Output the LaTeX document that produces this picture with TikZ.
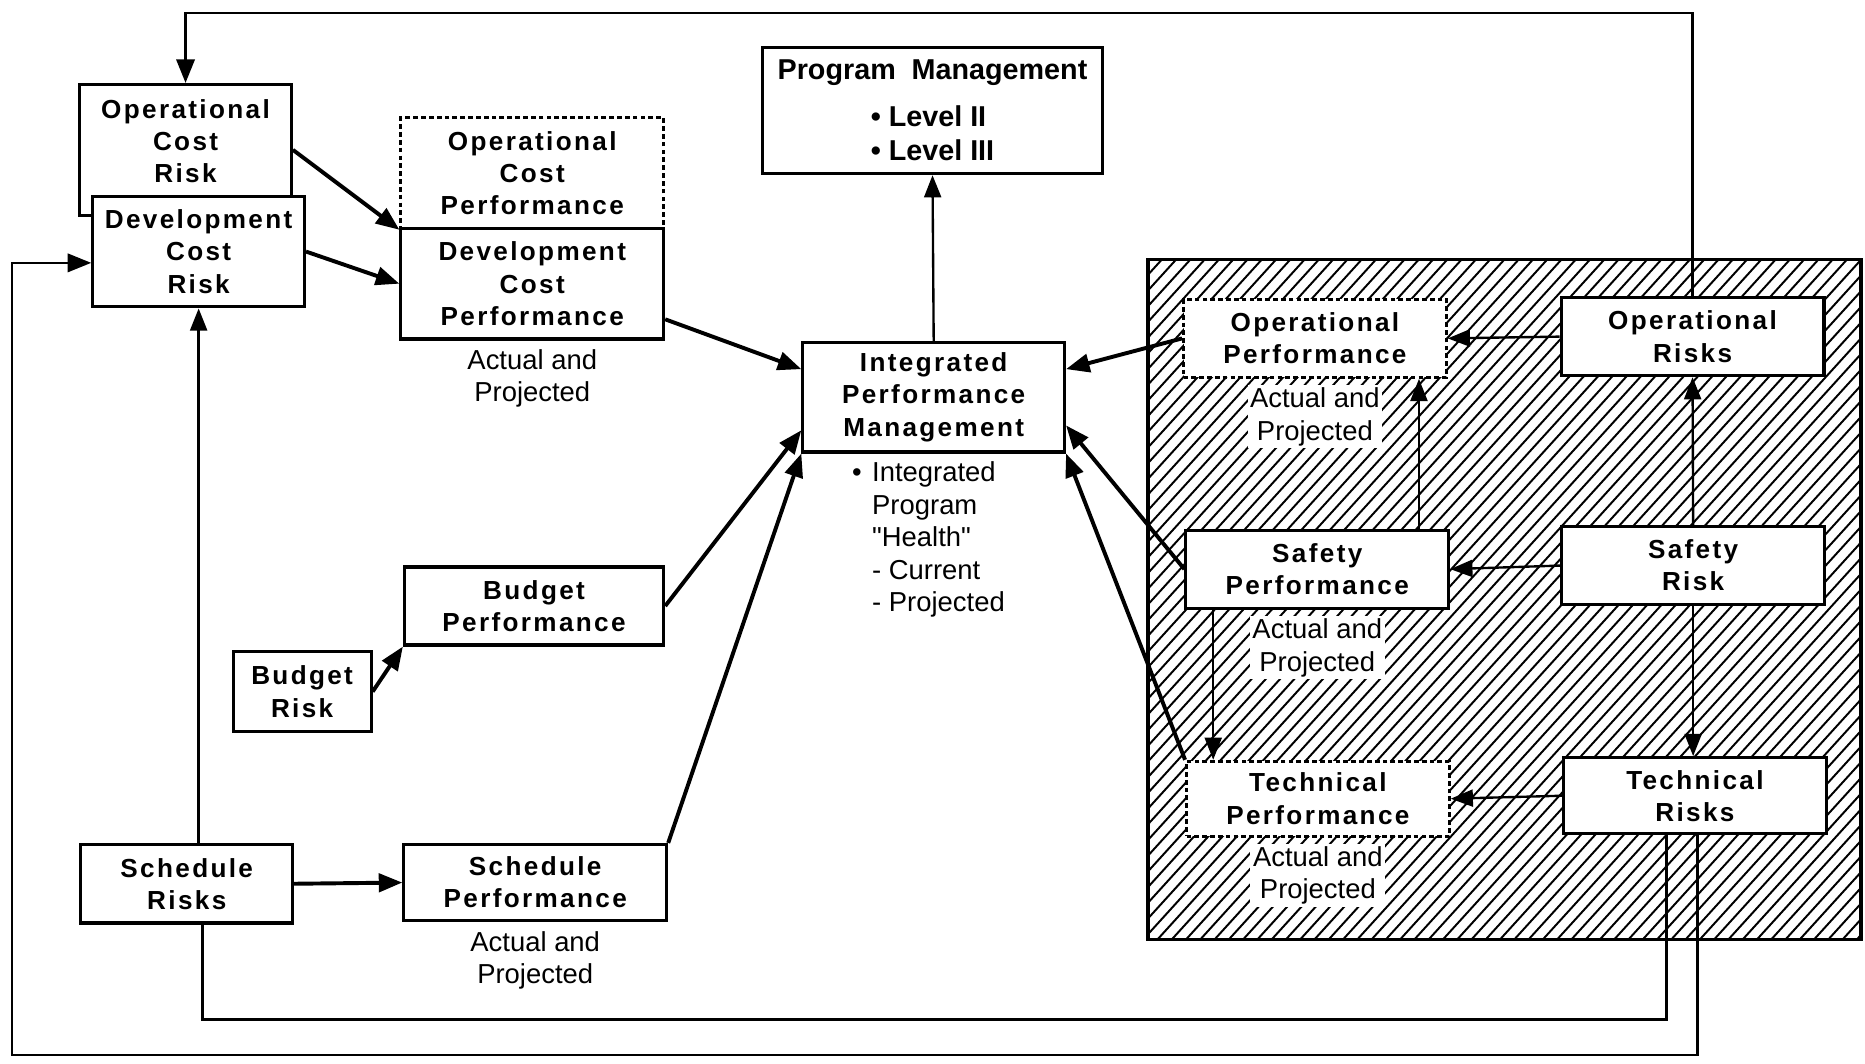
\documentclass[tikz,border=0pt]{standalone}
\usepackage{fontspec}
\usepackage{tikz}
\usetikzlibrary{arrows.meta, positioning}
\newfontfamily\riskfam{Liberation Sans}[LetterSpace=9]
\newfontfamily\plainfam{Liberation Sans}
\newcommand\riskfont{\riskfam\bfseries\fontsize{10}{12.3}\selectfont}
\newcommand\mgmtfont{\plainfam\bfseries\fontsize{11}{13}\selectfont}
\newcommand\notefont{\plainfam\fontsize{10.5}{12.4}\selectfont}
\tikzset{
  riskbox/.style={rectangle, draw, fill=white, line width=1.2pt,
    align=center, inner sep=0pt, font=\riskfont},
  perfbox/.style={riskbox, dash pattern=on 1.8pt off 1.2pt, line width=1.1pt},
  wide/.style={minimum width=3.536cm, minimum height=1.05cm},
  actual/.style={align=center, font=\notefont, inner sep=1pt, fill=white},
  note/.style={align=left, font=\notefont, inner sep=0pt},
  arrow/.style={-{Triangle[length=9pt,width=7pt]}, line width=1.5pt},
  thinarrow/.style={-{Triangle[length=8.5pt,width=6.5pt]}, line width=0.9pt},
  loopline/.style={line width=1pt},
  looparrow/.style={loopline, -{Triangle[length=9pt,width=7pt]}},
  hatch/.style={line width=0.75pt}
}

\begin{document}
\begin{tikzpicture}[x=0.016cm, y=-0.016cm]
  \useasboundingbox (0,0) rectangle (1568,894);

  % hatched risk area
  \begin{scope}
    \clip (965,218) rectangle (1565,790);
    \foreach \k in {0,...,100}
      \draw[hatch] (445+\k*12,790) -- ++(520,-572);
  \end{scope}
  \node[draw, line width=1.4pt, minimum width=9.6cm, minimum height=9.152cm,
    inner sep=0pt] (zone) at (1265,504) {};

  % cost risks and performance
  \node[riskbox, minimum width=2.848cm, minimum height=1.76cm, text depth=6.5pt] (ocr) at (156,126) {Operational\\Cost\\Risk};
  \node[riskbox, minimum width=2.848cm, minimum height=1.488cm] (dcr) at (167,211.5) {Development\\Cost\\Risk};
  \node[perfbox, minimum width=3.536cm, minimum height=1.488cm] (ocp) at (447.5,145.5) {Operational\\Cost\\Performance};
  \node[riskbox, minimum width=3.536cm, minimum height=1.488cm] (dcp) at (447.5,238.5) {Development\\Cost\\Performance};
  \node[actual, below=0.08cm of dcp] (dcpnote) {Actual and\\Projected};

  % management
  \node[riskbox, font=\mgmtfont, minimum width=4.576cm, minimum height=1.696cm] (pm) at (784,93)
    {Program\ \ Management\\[5pt]\textbullet\ Level II\phantom{I}\\\textbullet\ Level III};
  \node[riskbox, minimum width=3.52cm, minimum height=1.472cm] (ipm) at (785,334) {Integrated\\Performance\\Management};
  \node[note, anchor=north west] (health) at (716,388)
    {\textbullet\hspace{4pt}Integrated\\\hphantom{\textbullet}\hspace{4pt}Program\\\hphantom{\textbullet}\hspace{4pt}"Health"\\\hphantom{\textbullet}\hspace{4pt}- Current\\\hphantom{\textbullet}\hspace{4pt}- Projected};

  % budget and schedule
  \node[riskbox, wide, minimum width=3.488cm] (bp) at (449,509.5) {Budget\\Performance};
  \node[riskbox, minimum width=1.856cm, minimum height=1.072cm] (br) at (254,581.5) {Budget\\Risk};
  \node[riskbox, minimum width=2.848cm, minimum height=1.056cm] (sr) at (157,743) {Schedule\\Risks};
  \node[riskbox, wide, minimum height=1.024cm] (sp) at (450,742) {Schedule\\Performance};
  \node[actual, below=0.08cm of sp] (spnote) {Actual and\\Projected};

  % risk area boxes
  \node[perfbox, wide] (opp) at (1105.5,284.5) {Operational\\Performance};
  \node[actual, below=0.08cm of opp] (oppnote) {Actual and\\Projected};
  \node[riskbox, wide] (orr) at (1423,283) {Operational\\Risks};
  \node[riskbox, wide] (sfp) at (1107.5,478.5) {Safety\\Performance};
  \node[actual, below=0.08cm of sfp] (sfpnote) {Actual and\\Projected};
  \node[riskbox, wide] (sfr) at (1423.5,475.5) {Safety\\Risk};
  \node[perfbox, wide, minimum height=1.008cm] (tp) at (1108,671.5) {Technical\\Performance};
  \node[actual, below=0.08cm of tp] (tpnote) {Actual and\\Projected};
  \node[riskbox, wide, minimum height=1.024cm] (trk) at (1425,669) {Technical\\Risks};

  % into integrated performance
  \draw[arrow] (ocr.east) -- (ocp.south west);
  \draw[arrow] (dcr.east) -- (dcp.west);
  \draw[arrow] (dcp.-15) -- (ipm.168);
  \draw[arrow] (bp.east) -- (ipm.194);
  \draw[arrow] (sp.north east) -- (ipm.south west);
  \draw[arrow] (opp.west) -- (ipm.12);
  \draw[arrow] (sfp.west) -- (ipm.-12);
  \draw[arrow] (tp.north west) -- (ipm.south east);
  \draw[arrow] (br.east) -- (bp.south west);
  \draw[arrow] (sr.east) -- (sp.west);
  \draw[thinarrow] (ipm.north) -- (pm.south);

  % inside risk area
  \draw[thinarrow] (orr.west) -- (opp.east);
  \draw[thinarrow] (sfr.west) -- (sfp.east);
  \draw[thinarrow] (trk.west) -- (tp.east);
  \draw[thinarrow] (sfr.north) -- (orr.south);
  \draw[thinarrow] (sfr.south) -- (sfr.south |- trk.north);
  \coordinate (sv1) at (1193,0);
  \coordinate (sv2) at (1020,0);
  \draw[thinarrow] (sv1 |- sfp.north) -- (sv1 |- opp.south);
  \draw[thinarrow] (sv2 |- sfp.south) -- (sv2 |- tp.north);

  % feedback loops
  \draw[looparrow] (orr.north) -- ++(0,-238) -| (ocr.north);
  \draw[thinarrow] (dcr.south |- sr.north) -- (dcr.south);
  \coordinate (lo1) at (170,857);
  \coordinate (lo1r) at (1401,857);
  \draw[loopline] (lo1 |- sr.south) -- (lo1) -- (lo1r) -- (lo1r |- trk.south);
  \coordinate (lo2) at (10,887);
  \coordinate (lo2r) at (1427,887);
  \coordinate (lo2t) at (10,221);
  \draw[looparrow] (lo2r |- trk.south) -- (lo2r) -- (lo2) -- (lo2t) -- (lo2t -| dcr.west);
\end{tikzpicture}
\end{document}
